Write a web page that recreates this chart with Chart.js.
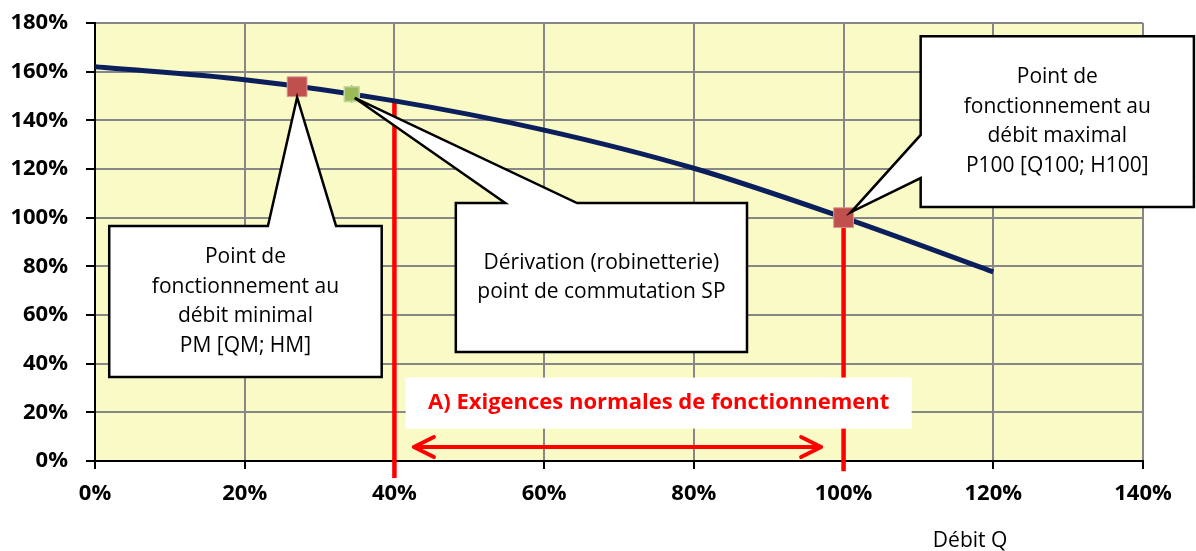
<!DOCTYPE html>
<html lang="fr">
<head>
<meta charset="utf-8">
<title>Courbe de fonctionnement</title>
<script src="https://cdn.jsdelivr.net/npm/chart.js@4.4.1/dist/chart.umd.min.js"></script>
<style>
html, body { margin: 0; padding: 0; background: #fff; }
#wrap { width: 1196px; height: 551px; position: relative; }
</style>
</head>
<body>
<div id="wrap"><canvas id="chart" width="1196" height="551"></canvas></div>
<script>
// courbe debit / hauteur (en % du point nominal)
var debitQ = [0, 20, 40, 60, 80, 100, 120];
var hauteurH = [162, 156.7, 148, 136, 120.3, 100, 77.7];

// points de fonctionnement
var pointPM = [{ x: 27, y: 153.8 }];
var pointSP = [{ x: 34.3, y: 150.8 }];
var pointP100 = [{ x: 100, y: 100 }];

// limites rouges de la plage normale
var limite40 = [{ x: 40, y: 148.2 }, { x: 40, y: -7 }];
var limite100 = [{ x: 100, y: 100 }, { x: 100, y: -4.2 }];

var xMin = 0, xMax = 140, xStep = 20;
var yMin = 0, yMax = 180, yStep = 20;

var texteNormal = "A) Exigences normales de fonctionnement";
var titreX = "Débit Q";

var callouts = [
    {
        box: [1.9, 96.6, 38.3, 34.5], base: [23.1, 32.2], tip: [27, 149.4], side: "top",
        lines: ["Point de", "fonctionnement au", "débit minimal", "PM [QM; HM]"]
    },
    {
        box: [48.2, 106, 87.1, 44.8], base: [54.8, 64.4], tip: [34.7, 149.2], side: "top",
        lines: ["Dérivation (robinetterie)", "point de commutation SP"]
    },
    {
        box: [110.3, 174.6, 146.8, 104.4], base: [134, 116.3], tip: [101, 102.3], side: "left",
        lines: ["Point de", "fonctionnement au", "débit maximal", "P100 [Q100; H100]"]
    }
];

var FONT = "'Open Sans', 'Liberation Sans', sans-serif";

var curveData = debitQ.map(function(q, i) {
    return { x: q, y: hauteurH[i] };
});

var backgroundPlugin = {
    id: "plotBackground",
    beforeDraw: function(chart) {
        var a = chart.chartArea;
        var ctx = chart.ctx;
        ctx.save();
        ctx.fillStyle = "#FAFAC6";
        ctx.fillRect(a.left, a.top, a.right - a.left, a.bottom - a.top);
        ctx.restore();
    }
};

function px(chart, x) { return chart.scales.x.getPixelForValue(x); }
function py(chart, y) { return chart.scales.y.getPixelForValue(y); }

function drawCallout(chart, c) {
    var ctx = chart.ctx;
    var l = px(chart, c.box[0]), t = py(chart, c.box[1]);
    var r = px(chart, c.box[2]), b = py(chart, c.box[3]);
    var tx = px(chart, c.tip[0]), ty = py(chart, c.tip[1]);

    ctx.beginPath();
    if (c.side === "top") {
        ctx.moveTo(l, t);
        ctx.lineTo(px(chart, c.base[0]), t);
        ctx.lineTo(tx, ty);
        ctx.lineTo(px(chart, c.base[1]), t);
        ctx.lineTo(r, t);
        ctx.lineTo(r, b);
        ctx.lineTo(l, b);
    } else {
        ctx.moveTo(l, t);
        ctx.lineTo(r, t);
        ctx.lineTo(r, b);
        ctx.lineTo(l, b);
        ctx.lineTo(l, py(chart, c.base[1]));
        ctx.lineTo(tx, ty);
        ctx.lineTo(l, py(chart, c.base[0]));
    }
    ctx.closePath();
    ctx.fillStyle = "#fff";
    ctx.fill();
    ctx.lineWidth = 2.5;
    ctx.lineJoin = "miter";
    ctx.strokeStyle = "#000";
    ctx.stroke();

    var lh = 29.5;
    var cx = (l + r) / 2;
    var cy = (t + b) / 2 - (c.lines.length - 1) * lh / 2;
    ctx.fillStyle = "#000";
    ctx.font = "21px " + FONT;
    ctx.textAlign = "center";
    ctx.textBaseline = "middle";
    for (var i = 0; i < c.lines.length; i++) {
        ctx.fillText(c.lines[i], cx, cy + i * lh);
    }
}

var annotationPlugin = {
    id: "annotations",
    afterDatasetsDraw: function(chart) {
        var ctx = chart.ctx;
        ctx.save();

        // fleche double rouge
        var ay = py(chart, 5.75);
        var ax1 = px(chart, 42.6), ax2 = px(chart, 97);
        ctx.strokeStyle = "#FF0000";
        ctx.lineWidth = 4;
        ctx.lineCap = "round";
        ctx.lineJoin = "round";
        ctx.beginPath();
        ctx.moveTo(ax1, ay);
        ctx.lineTo(ax2, ay);
        ctx.moveTo(ax1 + 20, ay - 10);
        ctx.lineTo(ax1, ay);
        ctx.lineTo(ax1 + 20, ay + 10);
        ctx.moveTo(ax2 - 20, ay - 10);
        ctx.lineTo(ax2, ay);
        ctx.lineTo(ax2 - 20, ay + 10);
        ctx.stroke();

        // cadre du texte rouge
        var bl = px(chart, 41.5), br = px(chart, 109.1);
        var bt = py(chart, 34.3), bb = py(chart, 13.3);
        ctx.fillStyle = "#fff";
        ctx.fillRect(bl, bt, br - bl, bb - bt);
        ctx.fillStyle = "#FF0000";
        ctx.font = "bold 22px " + FONT;
        ctx.textAlign = "center";
        ctx.textBaseline = "middle";
        ctx.fillText(texteNormal, (bl + br) / 2, (bt + bb) / 2);

        for (var i = 0; i < callouts.length; i++) {
            drawCallout(chart, callouts[i]);
        }

        // titre de l'axe X
        ctx.fillStyle = "#000";
        ctx.font = "21px " + FONT;
        ctx.textAlign = "center";
        ctx.textBaseline = "middle";
        ctx.fillText(titreX, px(chart, 116.9), chart.height - 10);

        ctx.restore();
    }
};

var chart = new Chart(document.getElementById("chart"), {
    type: "scatter",
    data: {
        datasets: [
            {
                label: "PM",
                data: pointPM,
                pointStyle: "rect",
                pointRadius: 14,
                backgroundColor: "#C0504D",
                borderColor: "#DA9694",
                borderWidth: 1,
                showLine: false,
                order: 1
            },
            {
                label: "SP",
                data: pointSP,
                pointStyle: "rect",
                pointRadius: 10.5,
                backgroundColor: "#9BBB59",
                borderColor: "#C3D69B",
                borderWidth: 1.5,
                showLine: false,
                order: 1
            },
            {
                label: "SP losange",
                data: pointSP,
                pointStyle: "rectRot",
                pointRadius: 9,
                backgroundColor: "#5B8BD0",
                borderWidth: 0,
                showLine: false,
                order: 1.5
            },
            {
                label: "P100",
                data: pointP100,
                pointStyle: "rect",
                pointRadius: 14,
                backgroundColor: "#C0504D",
                borderColor: "#DA9694",
                borderWidth: 1,
                showLine: false,
                order: 1
            },
            {
                label: "Courbe",
                data: curveData,
                showLine: true,
                borderColor: "#0B1F5C",
                borderWidth: 5,
                pointRadius: 0,
                cubicInterpolationMode: "monotone",
                order: 2
            },
            {
                label: "Limite 40",
                data: limite40,
                showLine: true,
                borderColor: "#FF0000",
                borderWidth: 4.5,
                pointRadius: 0,
                clip: false,
                order: 3
            },
            {
                label: "Limite 100",
                data: limite100,
                showLine: true,
                borderColor: "#FF0000",
                borderWidth: 4.5,
                pointRadius: 0,
                clip: false,
                order: 3
            }
        ]
    },
    options: {
        responsive: false,
        animation: false,
        layout: {
            autoPadding: false,
            padding: { top: 23, right: 53, bottom: 0, left: 0 }
        },
        plugins: {
            legend: { display: false },
            tooltip: { enabled: false },
            title: { display: false }
        },
        scales: {
            x: {
                type: "linear",
                min: xMin,
                max: xMax,
                afterFit: function(s) { s.height = 90; },
                ticks: {
                    stepSize: xStep,
                    padding: 12,
                    color: "#000",
                    font: { family: FONT, size: 22, weight: "bold" },
                    maxRotation: 0,
                    callback: function(v) { return v + "%"; }
                },
                grid: {
                    color: "#878787",
                    lineWidth: 2,
                    tickColor: "#000",
                    tickLength: 8,
                    tickWidth: 2
                },
                border: { color: "#000", width: 2 }
            },
            y: {
                type: "linear",
                min: yMin,
                max: yMax,
                afterFit: function(s) {
                    s.width = 95;
                    // sinon le padding des etiquettes repousse le haut du graphique
                    s.paddingTop = 0;
                    s.paddingBottom = 0;
                },
                ticks: {
                    stepSize: yStep,
                    padding: 18,
                    color: "#000",
                    font: { family: FONT, size: 22, weight: "bold" },
                    callback: function(v) { return v + "%"; }
                },
                grid: {
                    color: "#878787",
                    lineWidth: 2,
                    tickColor: "#000",
                    tickLength: 9,
                    tickWidth: 2
                },
                border: { color: "#000", width: 2 }
            }
        }
    },
    plugins: [backgroundPlugin, annotationPlugin]
});
</script>
</body>
</html>
